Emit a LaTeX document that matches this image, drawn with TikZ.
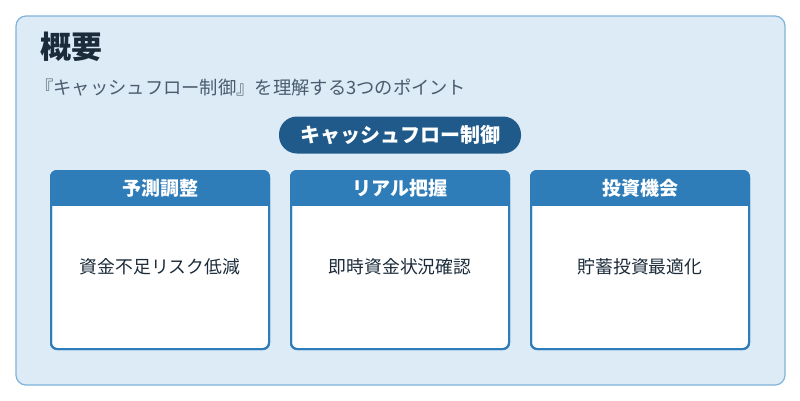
\documentclass[tikz,border=0pt]{standalone}
\usepackage{fontspec}
\setmainfont{Noto Sans CJK JP}
\definecolor{bgc}{HTML}{DCEBF6}
\definecolor{bdc}{HTML}{7FB3D8}
\definecolor{hdc}{HTML}{2E7DB8}
\definecolor{pill}{HTML}{1F5A8A}
\definecolor{ttl}{HTML}{1B2B3A}
\definecolor{sub}{HTML}{4A5C6E}
\tikzset{
 card/.style={draw=hdc,line width=2pt,fill=white,rounded corners=6pt,minimum width=218pt,minimum height=178pt,inner sep=0pt},
 head/.style={fill=hdc,text=white,font=\bfseries\fontsize{19}{21}\selectfont,minimum width=218pt,minimum height=35pt,inner sep=0pt},
 body/.style={font=\fontsize{17.8}{20}\selectfont,text=ttl}
}
\begin{document}
\begin{tikzpicture}[x=1pt,y=-1pt]
\useasboundingbox (0,0) rectangle (800,400);
\fill[white] (0,0) rectangle (800,400);
\draw[bdc,fill=bgc,line width=1.2pt,rounded corners=10pt] (16,16) rectangle (785,385);
\node[anchor=west,font=\bfseries\fontsize{31}{33}\selectfont,text=ttl,inner sep=0pt] (t) at (40,47) {概要};
\node[anchor=west,font=\fontsize{18.3}{20}\selectfont,text=sub,inner sep=0pt] (s) at (35,88) {『キャッシュフロー制御』を理解する3つのポイント};
\node[fill=pill,text=white,rounded corners=18pt,minimum width=242pt,minimum height=37pt,font=\bfseries\fontsize{20}{22}\selectfont] (p) at (400,135) {キャッシュフロー制御};
\foreach \cx/\h/\b/\n in {160/予測調整/資金不足リスク低減/a,400/リアル把握/即時資金状況確認/b,640/投資機会/貯蓄投資最適化/c}{
 \node[card] (\n) at (\cx,260) {};
 \begin{scope}
 \clip[rounded corners=6pt] (\cx-109,171) rectangle (\cx+109,349);
 \node[head] (\n h) at (\cx,188.5) {\h};
 \end{scope}
 \draw[hdc,line width=2pt,rounded corners=6pt] (\cx-109,171) rectangle (\cx+109,349);
 \node[body] (\n b) at (\cx,267) {\b};
}
\end{tikzpicture}
\end{document}
